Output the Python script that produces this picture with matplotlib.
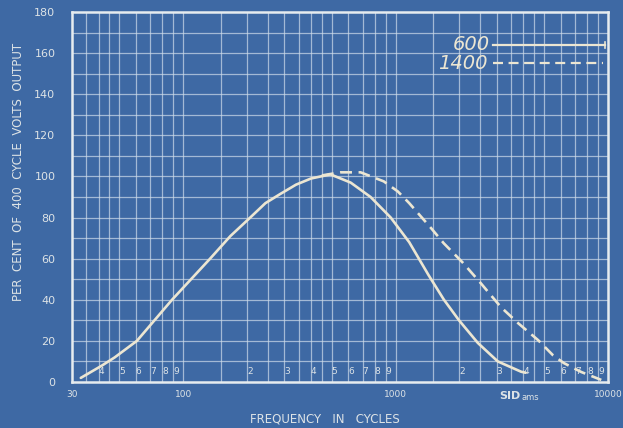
import matplotlib
matplotlib.use("Agg")
import matplotlib.pyplot as plt
import numpy as np

# ---- data ----
freq_600 = [33, 41.5, 47.7, 60.6, 88.7, 134, 167, 207, 244, 287, 340, 400, 494, 615, 763, 949,
            1160, 1430, 1690, 1990, 2440, 3030, 3900, 4100]
volts_600 = [2, 8, 12, 20, 40, 60, 71, 80, 87, 91.5, 96, 99, 101, 97, 90, 80,
             68, 52, 40, 30, 19, 10, 5, 4.5]

freq_1400 = [450, 550, 685, 880, 1025, 1160, 1466, 1686, 2075, 2522, 3135, 3778,
             4685, 5510, 6200, 7470, 8600, 9300]
volts_1400 = [100.5, 102, 102, 97.6, 92.7, 87, 75, 67.5, 58, 48, 36.4, 28.6,
              20.4, 13, 9.2, 4.9, 2.4, 1]

y_ticks = [0, 20, 40, 60, 80, 100, 120, 140, 160, 180]
x_tick_vals = [30, 100, 1000, 10000]
x_tick_labels = ["30", "100", "1000", "10000"]
decades = [10, 100, 1000]
band_digits = [[4, 5, 6, 7, 8, 9], [2, 3, 4, 5, 6, 7, 8, 9], [2, 3, 4, 5, 6, 7, 8, 9]]
grid_mult = [1, 1.5, 2, 2.5, 3, 3.5, 4, 4.5, 5, 6, 7, 8, 9]
legend_labels = ["600", "1400"]

BG = "#3e69a4"
LINE = "#ece6d2"
GRID = "#cfdcea"
TXT = "#dde3e6"

fig = plt.figure(figsize=(6.23, 4.28), dpi=100, facecolor=BG)
ax = fig.add_axes([72/623, 1-382/428, 536/623, 370/428])
ax.set_facecolor(BG)
ax.set_xscale("log")
ax.set_xlim(30, 10000)
ax.set_ylim(0, 180)

# grid
for dec in decades:
    for m in grid_mult:
        v = dec * m
        if 30 < v < 10000:
            ax.axvline(v, color=GRID, lw=0.9, alpha=0.7, zorder=1)
for y in range(10, 180, 10):
    ax.axhline(y, color=GRID, lw=0.9, alpha=0.7, zorder=1)
for sp in ax.spines.values():
    sp.set_color("#e6ecef")
    sp.set_linewidth(1.8)

ax.tick_params(which="both", length=0, colors=TXT)
ax.set_yticks(y_ticks)
ax.set_yticklabels([str(t) for t in y_ticks], fontsize=8, color=TXT)
ax.tick_params(axis="y", pad=12)
ax.set_xticks(x_tick_vals)
ax.set_xticklabels(x_tick_labels, fontsize=6.5, color=TXT)
ax.xaxis.set_minor_locator(matplotlib.ticker.NullLocator())
ax.tick_params(axis="x", pad=6)

# in-band small digits
for dec, digs in zip(decades, band_digits):
    for d in digs:
        ax.text(dec * d * 1.03, 5, str(d), fontsize=6.5, color=TXT,
                ha="center", va="center", zorder=2)

# curves
ax.plot(freq_600, volts_600, color=LINE, lw=1.9, zorder=4, solid_capstyle="round")
ax.plot(freq_1400, volts_1400, color=LINE, lw=1.9, zorder=4,
        linestyle=(0, (4.5, 2.5)))

# hand-written legend
ax.text(0.745, 0.912, legend_labels[0], transform=ax.transAxes, fontsize=14,
        color=LINE, ha="center", va="center", style="italic")
ax.text(0.73, 0.862, legend_labels[1], transform=ax.transAxes, fontsize=14,
        color=LINE, ha="center", va="center", style="italic")
ax.plot([0.785, 0.995], [0.911, 0.911], transform=ax.transAxes, color=LINE, lw=1.6, zorder=4)
ax.plot([0.995, 0.995], [0.902, 0.92], transform=ax.transAxes, color=LINE, lw=1.2, zorder=4)
ax.plot([0.785, 0.99], [0.862, 0.862], transform=ax.transAxes, color=LINE, lw=1.6,
        linestyle=(0, (4.5, 2.5)), zorder=4)

# signature-like text
fig.text(520/623, 1-396/428, "SID", fontsize=8, color=TXT, ha="right", va="center",
         fontweight="bold")
fig.text(521/623, 1-398/428, "ams", fontsize=6, color=TXT, ha="left", va="center")

fig.text(325/623, 1-419/428, "FREQUENCY   IN   CYCLES", fontsize=8.5, color=TXT,
         ha="center", va="center")
fig.text(19/623, 1-172/428, "PER  CENT  OF  400  CYCLE  VOLTS  OUTPUT", fontsize=8.5,
         color=TXT, ha="center", va="center", rotation=90)

fig.savefig("out.png", dpi=100, facecolor=BG)
